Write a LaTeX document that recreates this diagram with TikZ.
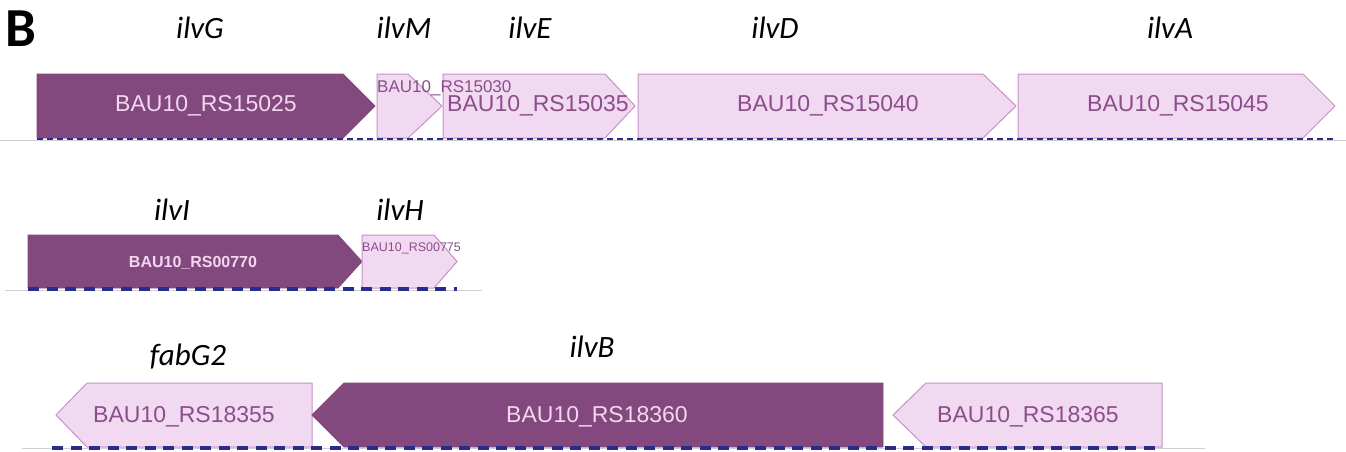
\documentclass[tikz,border=0pt]{standalone}
\usepackage{fontspec}
\newfontfamily\genefont{Carlito}
\newfontfamily\idfont{Liberation Sans}
\definecolor{darkg}{RGB}{131,73,127}
\definecolor{lightg}{RGB}{242,217,242}
\definecolor{lightedge}{RGB}{198,146,198}
\definecolor{darktext}{RGB}{243,214,240}
\definecolor{lighttext}{RGB}{139,78,139}
\definecolor{navyline}{RGB}{40,44,140}
\definecolor{baseline}{RGB}{208,208,208}
\tikzset{
  darkgene/.style={fill=darkg, draw=darkg, line width=0.8pt},
  lightgene/.style={fill=lightg, draw=lightedge, line width=1pt},
  genename/.style={font=\genefont\itshape\fontsize{31}{31}\selectfont, text=black, inner sep=0pt},
  idlabel/.style={font=\idfont\fontsize{23}{23}\selectfont, inner sep=0pt},
  ondark/.style={idlabel, text=darktext},
  onlight/.style={idlabel, text=lighttext},
  greyline/.style={draw=baseline, line width=1pt},
  thindash/.style={draw=navyline, line width=2.5pt, dash pattern=on 6pt off 4pt},
  thickdash/.style={draw=navyline, line width=3.5pt, dash pattern=on 11pt off 7.5pt},
}
% forward gene: left, shoulder, tip, top, bottom, style
\newcommand\fwdgene[6]{\path[#6] (#1,#4) -- (#2,#4) -- (#3,{(#4+#5)/2}) -- (#2,#5) -- (#1,#5) -- cycle;}
% reverse gene: right, shoulder, tip, top, bottom, style
\newcommand\revgene[6]{\path[#6] (#1,#4) -- (#2,#4) -- (#3,{(#4+#5)/2}) -- (#2,#5) -- (#1,#5) -- cycle;}
\begin{document}
\begin{tikzpicture}[x=1pt,y=-1pt]
\useasboundingbox (0,0) rectangle (1346,451);
\fill[white] (0,0) rectangle (1346,451);

% ---------- panel letter ----------
\node[font=\genefont\bfseries\fontsize{55}{55}\selectfont, inner sep=0pt] (B) at (21,29) {B};

% ---------- row 1 ----------
\coordinate (r1s) at (0,140);
\coordinate (r1e) at (1346,140);
\draw[greyline] (r1s) -- (r1e);
\fwdgene{37}{343}{375}{74}{138}{darkgene}
\fwdgene{377}{408}{442}{74}{138}{lightgene}
\fwdgene{443}{605}{635}{74}{138}{lightgene}
\fwdgene{638}{983}{1016}{74}{138}{lightgene}
\fwdgene{1018}{1303}{1335}{74}{138}{lightgene}
\coordinate (d1s) at (37,139);
\coordinate (d1e) at (1336,139);
\draw[thindash] (d1s) -- (d1e);

\node[ondark] (g15025) at (206,106) {BAU10\_RS15025};
\node[onlight, font=\idfont\fontsize{17}{17}\selectfont, anchor=west] (g15030) at (377,88) {BAU10\_RS15030};
\node[onlight] (g15035) at (538,106) {BAU10\_RS15035};
\node[onlight] (g15040) at (828,106) {BAU10\_RS15040};
\node[onlight] (g15045) at (1178,106) {BAU10\_RS15045};

\node[genename] (ilvG) at (200,28) {ilvG};
\node[genename] (ilvM) at (404,28) {ilvM};
\node[genename] (ilvE) at (530,28) {ilvE};
\node[genename] (ilvD) at (775,28) {ilvD};
\node[genename] (ilvA) at (1170,28) {ilvA};

% ---------- row 2 ----------
\coordinate (r2s) at (5,290);
\coordinate (r2e) at (482,290);
\draw[greyline] (r2s) -- (r2e);
\fwdgene{28}{338}{362}{235}{288}{darkgene}
\fwdgene{362}{434}{457}{235}{288}{lightgene}
\coordinate (d2s) at (28,289);
\coordinate (d2e) at (457,289);
\draw[thickdash] (d2s) -- (d2e);

\node[ondark, font=\idfont\bfseries\fontsize{16}{16}\selectfont] (g00770) at (193,263) {BAU10\_RS00770};
\node[onlight, font=\idfont\fontsize{12.5}{12.5}\selectfont, anchor=west] (g00775) at (362,248) {BAU10\_RS00775};

\node[genename] (ilvI) at (172,210) {ilvI};
\node[genename] (ilvH) at (400,210) {ilvH};

% ---------- row 3 ----------
\coordinate (r3s) at (22,448);
\coordinate (r3e) at (1205,448);
\draw[greyline] (r3s) -- (r3e);
\revgene{312}{87}{56}{383}{447}{lightgene}
\revgene{883}{344}{312}{383}{447}{darkgene}
\revgene{1162}{926}{893}{383}{447}{lightgene}
\coordinate (d3s) at (52,448);
\coordinate (d3e) at (1162,448);
\draw[thickdash] (d3s) -- (d3e);

\node[onlight] (g18355) at (184,417) {BAU10\_RS18355};
\node[ondark] (g18360) at (597,417) {BAU10\_RS18360};
\node[onlight] (g18365) at (1028,417) {BAU10\_RS18365};

\node[genename] (fabG2) at (188,357) {fabG2};
\node[genename] (ilvB) at (592,347) {ilvB};
\end{tikzpicture}
\end{document}
